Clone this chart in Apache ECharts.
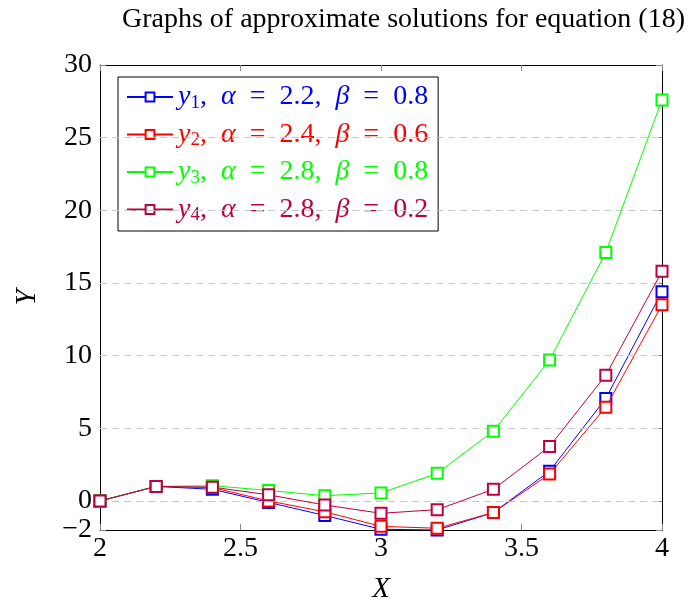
<!DOCTYPE html>
<html>
<head>
<meta charset="utf-8">
<title>Graphs of approximate solutions</title>
<script src="https://cdn.jsdelivr.net/npm/echarts@6/dist/echarts.min.js"></script>
<style>
  html, body { margin: 0; padding: 0; background: #fff; }
  #chart { width: 699px; height: 600px; }
</style>
</head>
<body>
<div id="chart"></div>
<script>
// x grid of the solution
const xValues = [2, 2.2, 2.4, 2.6, 2.8, 3.0, 3.2, 3.4, 3.6, 3.8, 4.0]

// approximate solutions
const y1 = [0, 1.0, 0.8, -0.1, -1.0, -1.95, -2.0, -0.8, 2.05, 7.05, 14.4]
const y2 = [0, 1.0, 0.92, 0.0, -0.75, -1.75, -1.88, -0.8, 1.85, 6.45, 13.5]
const y3 = [0, 1.0, 1.05, 0.72, 0.36, 0.55, 1.9, 4.8, 9.7, 17.1, 27.6]
const y4 = [0, 1.0, 0.95, 0.42, -0.28, -0.85, -0.6, 0.8, 3.75, 8.65, 15.8]

const seriesNames = ['y1', 'y2', 'y3', 'y4']
const seriesColors = ['#0000ff', '#ff0000', '#00ff00', '#bf0040']
const alphas = ['2.2', '2.4', '2.8', '2.8']
const betas = ['0.8', '0.6', '0.8', '0.2']

const yTicks = [-2, 0, 5, 10, 15, 20, 25, 30]
const gridValues = [0, 5, 10, 15, 20, 25]

const FONT = '"Liberation Serif", "DejaVu Serif", serif'

const chart = echarts.init(document.getElementById('chart'))

const pair = (ys) => xValues.map((x, i) => [x, ys[i]])
const allY = [y1, y2, y3, y4]

const legendText = (name) => {
  const i = seriesNames.indexOf(name)
  return `{i|y}{s|${i + 1}}{n|,  }{i|α}{n|  =  ${alphas[i]},  }{i|β}{n|  =  ${betas[i]}}`
}

const minus = (v) => String(v).replace('-', '\u2212')

const option = {
  animation: false,
  backgroundColor: '#fff',
  title: {
    text: 'Graphs of approximate solutions for equation (18)',
    left: 117,
    top: 1,
    textStyle: { fontFamily: FONT, fontSize: 28, fontWeight: 'normal', color: '#000' },
  },
  legend: {
    orient: 'vertical',
    left: 118,
    top: 77,
    padding: [6, 10, 6, 8],
    itemGap: 8,
    itemWidth: 46,
    itemHeight: 11,
    borderColor: '#000',
    borderWidth: 1,
    borderRadius: 0,
    backgroundColor: '#fff',
    data: seriesNames.map((n, i) => ({ name: n, textStyle: { color: seriesColors[i] } })),
    formatter: legendText,
    textStyle: {
      fontFamily: FONT,
      fontSize: 28,
      rich: {
        i: { fontFamily: FONT, fontSize: 28, fontStyle: 'italic' },
        s: { fontFamily: FONT, fontSize: 19, verticalAlign: 'bottom', padding: [12, 0, 0, 0] },
        n: { fontFamily: FONT, fontSize: 28 },
      },
    },
  },
  grid: { left: 100, right: 37, top: 65, bottom: 70, containLabel: false, outerBoundsMode: 'none' },
  xAxis: [
    {
      type: 'value',
      min: 2,
      max: 4,
      interval: 0.5,
      name: 'X',
      nameLocation: 'middle',
      nameGap: 45,
      nameTextStyle: { fontFamily: FONT, fontSize: 29, fontStyle: 'italic', color: '#000' },
      axisLine: { onZero: false, lineStyle: { color: '#000', width: 1 } },
      axisTick: { inside: true, length: 6, lineStyle: { color: '#888' } },
      axisLabel: { fontFamily: FONT, fontSize: 28, color: '#000', margin: 5 },
      splitLine: { show: false },
    },
    {
      type: 'value',
      position: 'top',
      min: 2,
      max: 4,
      interval: 0.5,
      axisLine: { onZero: false, lineStyle: { color: '#000', width: 1 } },
      axisTick: { inside: true, length: 6, lineStyle: { color: '#888' } },
      axisLabel: { show: false },
      splitLine: { show: false },
    },
  ],
  yAxis: [
    {
      type: 'value',
      min: -2,
      max: 30,
      name: 'Y',
      nameLocation: 'middle',
      nameGap: 58,
      nameTextStyle: { fontFamily: FONT, fontSize: 29, fontStyle: 'italic', color: '#000' },
      axisLine: { show: true, onZero: false, lineStyle: { color: '#000', width: 1 } },
      axisTick: { show: true, inside: true, length: 6, customValues: yTicks, lineStyle: { color: '#888' } },
      axisLabel: { fontFamily: FONT, fontSize: 28, color: '#000', margin: 8, customValues: yTicks, formatter: minus },
      splitLine: { show: false },
    },
    {
      type: 'value',
      position: 'right',
      min: -2,
      max: 30,
      axisLine: { show: true, onZero: false, lineStyle: { color: '#000', width: 1 } },
      axisTick: { show: true, inside: true, length: 6, customValues: yTicks, lineStyle: { color: '#888' } },
      axisLabel: { show: false, customValues: yTicks },
      splitLine: { show: false },
    },
  ],
  series: [
    {
      name: 'grid',
      type: 'line',
      data: [],
      silent: true,
      markLine: {
        silent: true,
        symbol: 'none',
        label: { show: false },
        lineStyle: { color: '#c8c8c8', type: [7, 5], width: 1 },
        data: gridValues.map((v) => ({ yAxis: v })),
      },
    },
    ...seriesNames.map((n, i) => ({
      name: n,
      type: 'line',
      data: pair(allY[i]),
      symbol: 'emptyRect',
      symbolSize: 11,
      showAllSymbol: true,
      color: seriesColors[i],
      lineStyle: { width: 1, color: seriesColors[i] },
      itemStyle: { color: seriesColors[i], borderColor: seriesColors[i], borderWidth: 1 },
      z: 3 + i,
    })),
  ],
}

chart.setOption(option)
</script>
</body>
</html>
